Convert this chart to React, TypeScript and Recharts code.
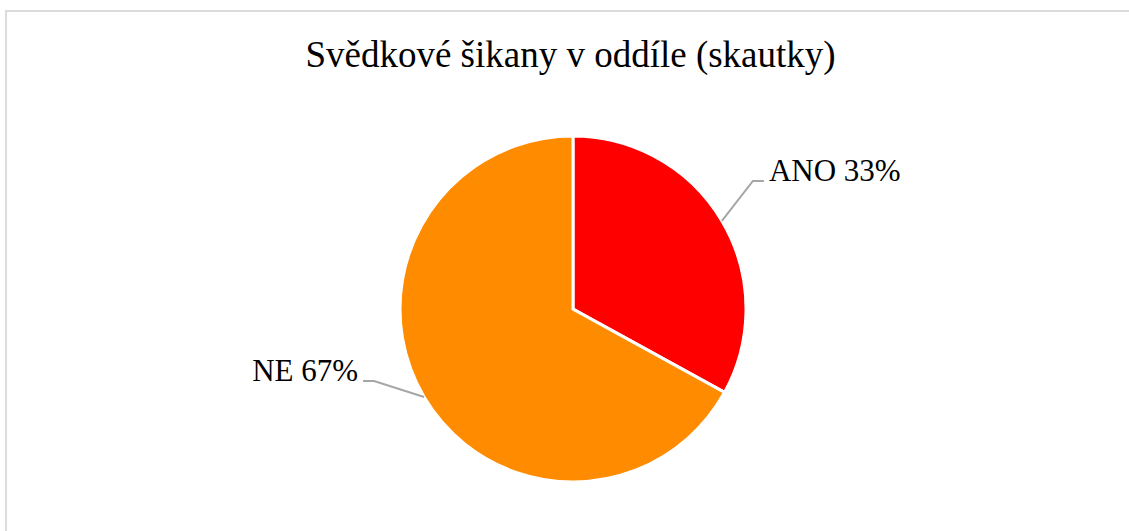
import React from "react";
import { PieChart, Pie, Cell } from "recharts";

const categories = ["ANO", "NE"];
const shares = [33, 67];
const sliceColors = ["#ff0000", "#ff8c00"];
const title = "Svědkové šikany v oddíle (skautky)";

// leader-line elbow offsets from the slice edge, and direction of the label
const labelOffsets = [
  { dx: 31, dy: -40, side: 1 },
  { dx: -50, dy: -16, side: -1 },
];

const chartData = categories.map((name, i) => ({ name, value: shares[i] }));

const RAD = Math.PI / 180;
const FONT = '"Liberation Serif", "Times New Roman", serif';

function renderLabel(props: any) {
  const { cx, cy, midAngle, outerRadius, index, name, value } = props;
  const ex = cx + outerRadius * Math.cos(-midAngle * RAD);
  const ey = cy + outerRadius * Math.sin(-midAngle * RAD);
  const off = labelOffsets[index];
  const bx = ex + off.dx;
  const by = ey + off.dy;
  const hx = bx + off.side * 11;
  return (
    <g key={`lbl-${index}`}>
      <polyline
        points={`${ex},${ey} ${bx},${by} ${hx},${by}`}
        fill="none"
        stroke="#a6a6a6"
        strokeWidth={2}
      />
      <text
        x={hx + off.side * 5}
        y={by}
        textAnchor={off.side > 0 ? "start" : "end"}
        fontFamily={FONT}
        fontSize={31}
        fill="#000"
      >
        {`${name} ${value}%`}
      </text>
    </g>
  );
}

export default function App() {
  return (
    <div
      style={{
        position: "fixed",
        left: 0,
        top: 0,
        width: 1129,
        height: 531,
        background: "#fff",
        overflow: "hidden",
      }}
    >
      <div
        style={{
          position: "absolute",
          left: 5,
          top: 10,
          width: 1200,
          height: 600,
          border: "2px solid #dcdcdc",
        }}
      />
      <div
        style={{
          position: "absolute",
          left: 0,
          top: 35,
          width: 1141,
          textAlign: "center",
          fontFamily: FONT,
          fontSize: 37,
          lineHeight: "40px",
          color: "#000",
        }}
      >
        {title}
      </div>
      <div style={{ position: "absolute", left: 0, top: 0 }}>
        <PieChart
          width={1129}
          height={531}
          margin={{ top: 0, right: 0, bottom: 0, left: 0 }}
        >
          <Pie
            data={chartData}
            dataKey="value"
            nameKey="name"
            cx={573}
            cy={309}
            outerRadius={173}
            startAngle={90}
            endAngle={-270}
            stroke="#ffffff"
            strokeWidth={3}
            label={renderLabel}
            labelLine={false}
            isAnimationActive={false}
          >
            {chartData.map((d, i) => (
              <Cell key={d.name} fill={sliceColors[i]} />
            ))}
          </Pie>
        </PieChart>
      </div>
    </div>
  );
}
